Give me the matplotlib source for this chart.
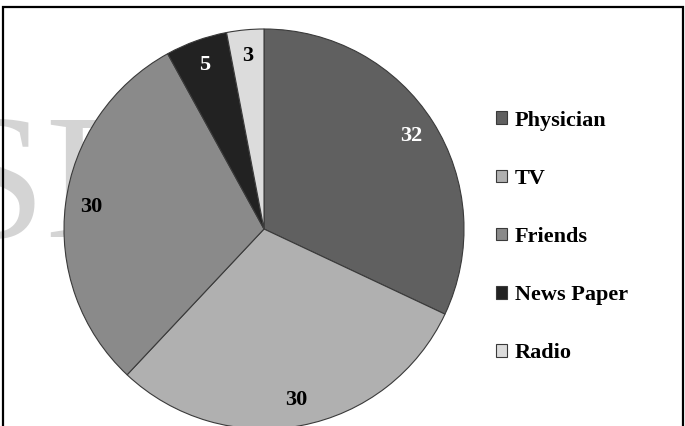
import matplotlib
matplotlib.use("Agg")
import matplotlib.pyplot as plt
from matplotlib.patches import Rectangle

categories = ["Physician", "TV", "Friends", "News Paper", "Radio"]
values = [32, 30, 30, 5, 3]
colors = ["#606060", "#b0b0b0", "#8a8a8a", "#222222", "#dcdcdc"]
label_colors = ["white", "black", "black", "white", "black"]

W, H = 685, 426
fig = plt.figure(figsize=(W / 100, H / 100), dpi=100)

# watermark behind the pie
fig.text(-54 / W, 1 - 237 / H, "SE", fontsize=129, family="Liberation Serif",
         color="#d4d4d4", ha="left", va="baseline", zorder=-5)

cx, cy, r = 264, 229, 200
ax = fig.add_axes([(cx - r) / W, (H - cy - r) / H, 2 * r / W, 2 * r / H])
ax.patch.set_visible(False)
total = sum(values)
wedges, texts, autotexts = ax.pie(
    values, colors=colors, startangle=90, counterclock=False,
    autopct=lambda p: f"{p * total / 100:.0f}", pctdistance=0.87,
    wedgeprops=dict(edgecolor="#3a3a3a", linewidth=0.8),
    textprops=dict(family="Liberation Serif", fontweight="bold", fontsize=16))
for t, c in zip(autotexts, label_colors):
    t.set_color(c)
ax.set_xlim(-1, 1)
ax.set_ylim(-1, 1)
ax.set_aspect("equal")
ax.axis("off")

leg = fig.legend(wedges, categories, loc="center left",
                 bbox_to_anchor=(496 / W, 1 - 237 / H), frameon=False,
                 borderpad=0, borderaxespad=0, handlelength=0.5, handleheight=0.5,
                 handletextpad=0.35, labelspacing=1.72,
                 prop=dict(family="Liberation Serif", weight="bold", size=16))

# outer frame
fig.patches.append(Rectangle((3 / W, -0.05), 680 / W, 1.05 - 7 / H,
                             transform=fig.transFigure, fill=False,
                             edgecolor="black", linewidth=1.6, zorder=10))

fig.savefig("out.png", dpi=100)
